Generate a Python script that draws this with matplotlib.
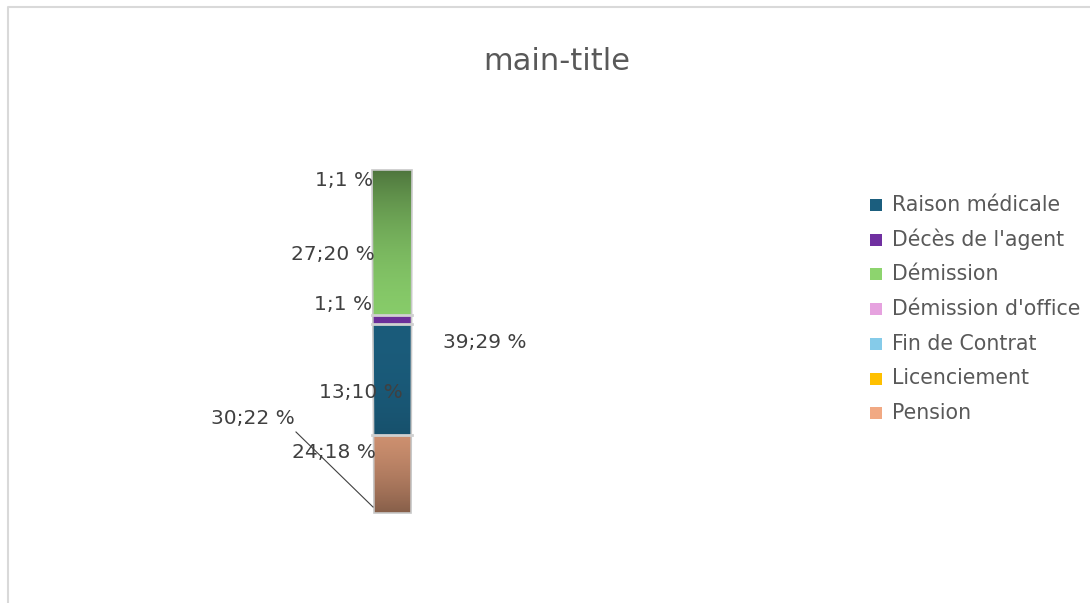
import numpy as np
import matplotlib
matplotlib.use("Agg")
from matplotlib import pyplot as plt
from matplotlib.patches import Polygon, Rectangle

# data (pie slice order)
categories = ["Raison médicale", "Décès de l'agent", "Démission", "Démission d'office",
              "Fin de Contrat", "Licenciement", "Pension"]
values = [13, 1, 27, 1, 39, 30, 24]
colors = ["#1b5e7e", "#7030a0", "#8dd46e", "#e6a2df", "#85cbe9", "#ffc000", "#f1a983"]
title = "main-title"

# layout (pixel coordinates)
W, H = 1090, 603
cy, R = 341.5, 171.5          # pie seen edge-on: centre and half height on screen
x_top = (372, 412)
x_bot = (374, 411)
visible_units = 60            # how much of the pie shows on the front face
label_pos = {
    "Démission d'office": (344, 180),
    "Démission": (333, 254),
    "Décès de l'agent": (343, 304),
    "Fin de Contrat": (485, 343),
    "Raison médicale": (361, 393),
    "Licenciement": (253, 418),
    "Pension": (334, 452),
}

total = sum(values)
deg = 180.0 / visible_units

fig = plt.figure(figsize=(W / 100, H / 100), dpi=100)
ax = fig.add_axes([0, 0, 1, 1])
ax.set_xlim(0, W)
ax.set_ylim(H, 0)
ax.axis("off")

# chart border
ax.plot([8, 8, W + 5], [H + 5, 7, 7], color="#d9d9d9", lw=1.5, solid_capstyle="butt")

ax.text(557, 62, title, ha="center", va="center", fontsize=22, color="#595959")

# front face, top to bottom: slices go backwards from Démission
order = []
i = categories.index("Démission")
for _ in range(len(values)):
    order.append(i)
    i = (i - 1) % len(values)
bounds = []
phi = 0.0
for i in order:
    bounds.append((i, phi, phi + values[i] * deg))
    phi += values[i] * deg


def shade(p):
    return 0.55 + 0.42 * np.abs(np.sin(np.radians(p))) ** 1.8


# build the bar image row by row
ys = np.arange(cy - R, cy + R, 0.5)
img = np.ones((len(ys), 1, 3))
for r, y in enumerate(ys):
    p = np.degrees(np.arccos(np.clip((cy - y) / R, -1, 1)))
    for i, a0, a1 in bounds:
        if a0 <= p < a1:
            base = np.array(matplotlib.colors.to_rgb(colors[i]))
            img[r, 0] = base * shade(p)
            break

bar = Polygon([(x_top[0], cy - R), (x_top[1], cy - R), (x_bot[1], cy + R), (x_bot[0], cy + R)],
              closed=True, fc="none", ec="#c8c8c8", lw=1.2, zorder=3)
ax.add_patch(bar)
im = ax.imshow(img, extent=(x_top[0] - 2, x_top[1] + 2, cy + R, cy - R), aspect="auto",
               interpolation="bilinear", zorder=2)
im.set_clip_path(bar)

# separators between visible slices
for i, a0, a1 in bounds:
    if 1 < a1 < 179:
        y = cy - R * np.cos(np.radians(a1))
        ax.plot([x_top[0], x_top[1]], [y, y], color="#d0d0d0", lw=2, zorder=4)

# data labels
for name, v in zip(categories, values):
    x, y = label_pos[name]
    ax.text(x, y, f"{v};{round(100 * v / total)} %", ha="center", va="center",
            fontsize=14.5, color="#404040", zorder=5)

# leader line for Licenciement
ax.plot([296, 373], [432, 507], color="#404040", lw=0.8, zorder=5)

# legend
for k, name in enumerate(categories):
    y = 205 + k * 34.7
    ax.add_patch(Rectangle((870, y - 6), 12, 12, fc=colors[k], ec="none"))
    ax.text(892, y, name, ha="left", va="center", fontsize=14.8, color="#595959")

fig.savefig("out.png", dpi=100)
